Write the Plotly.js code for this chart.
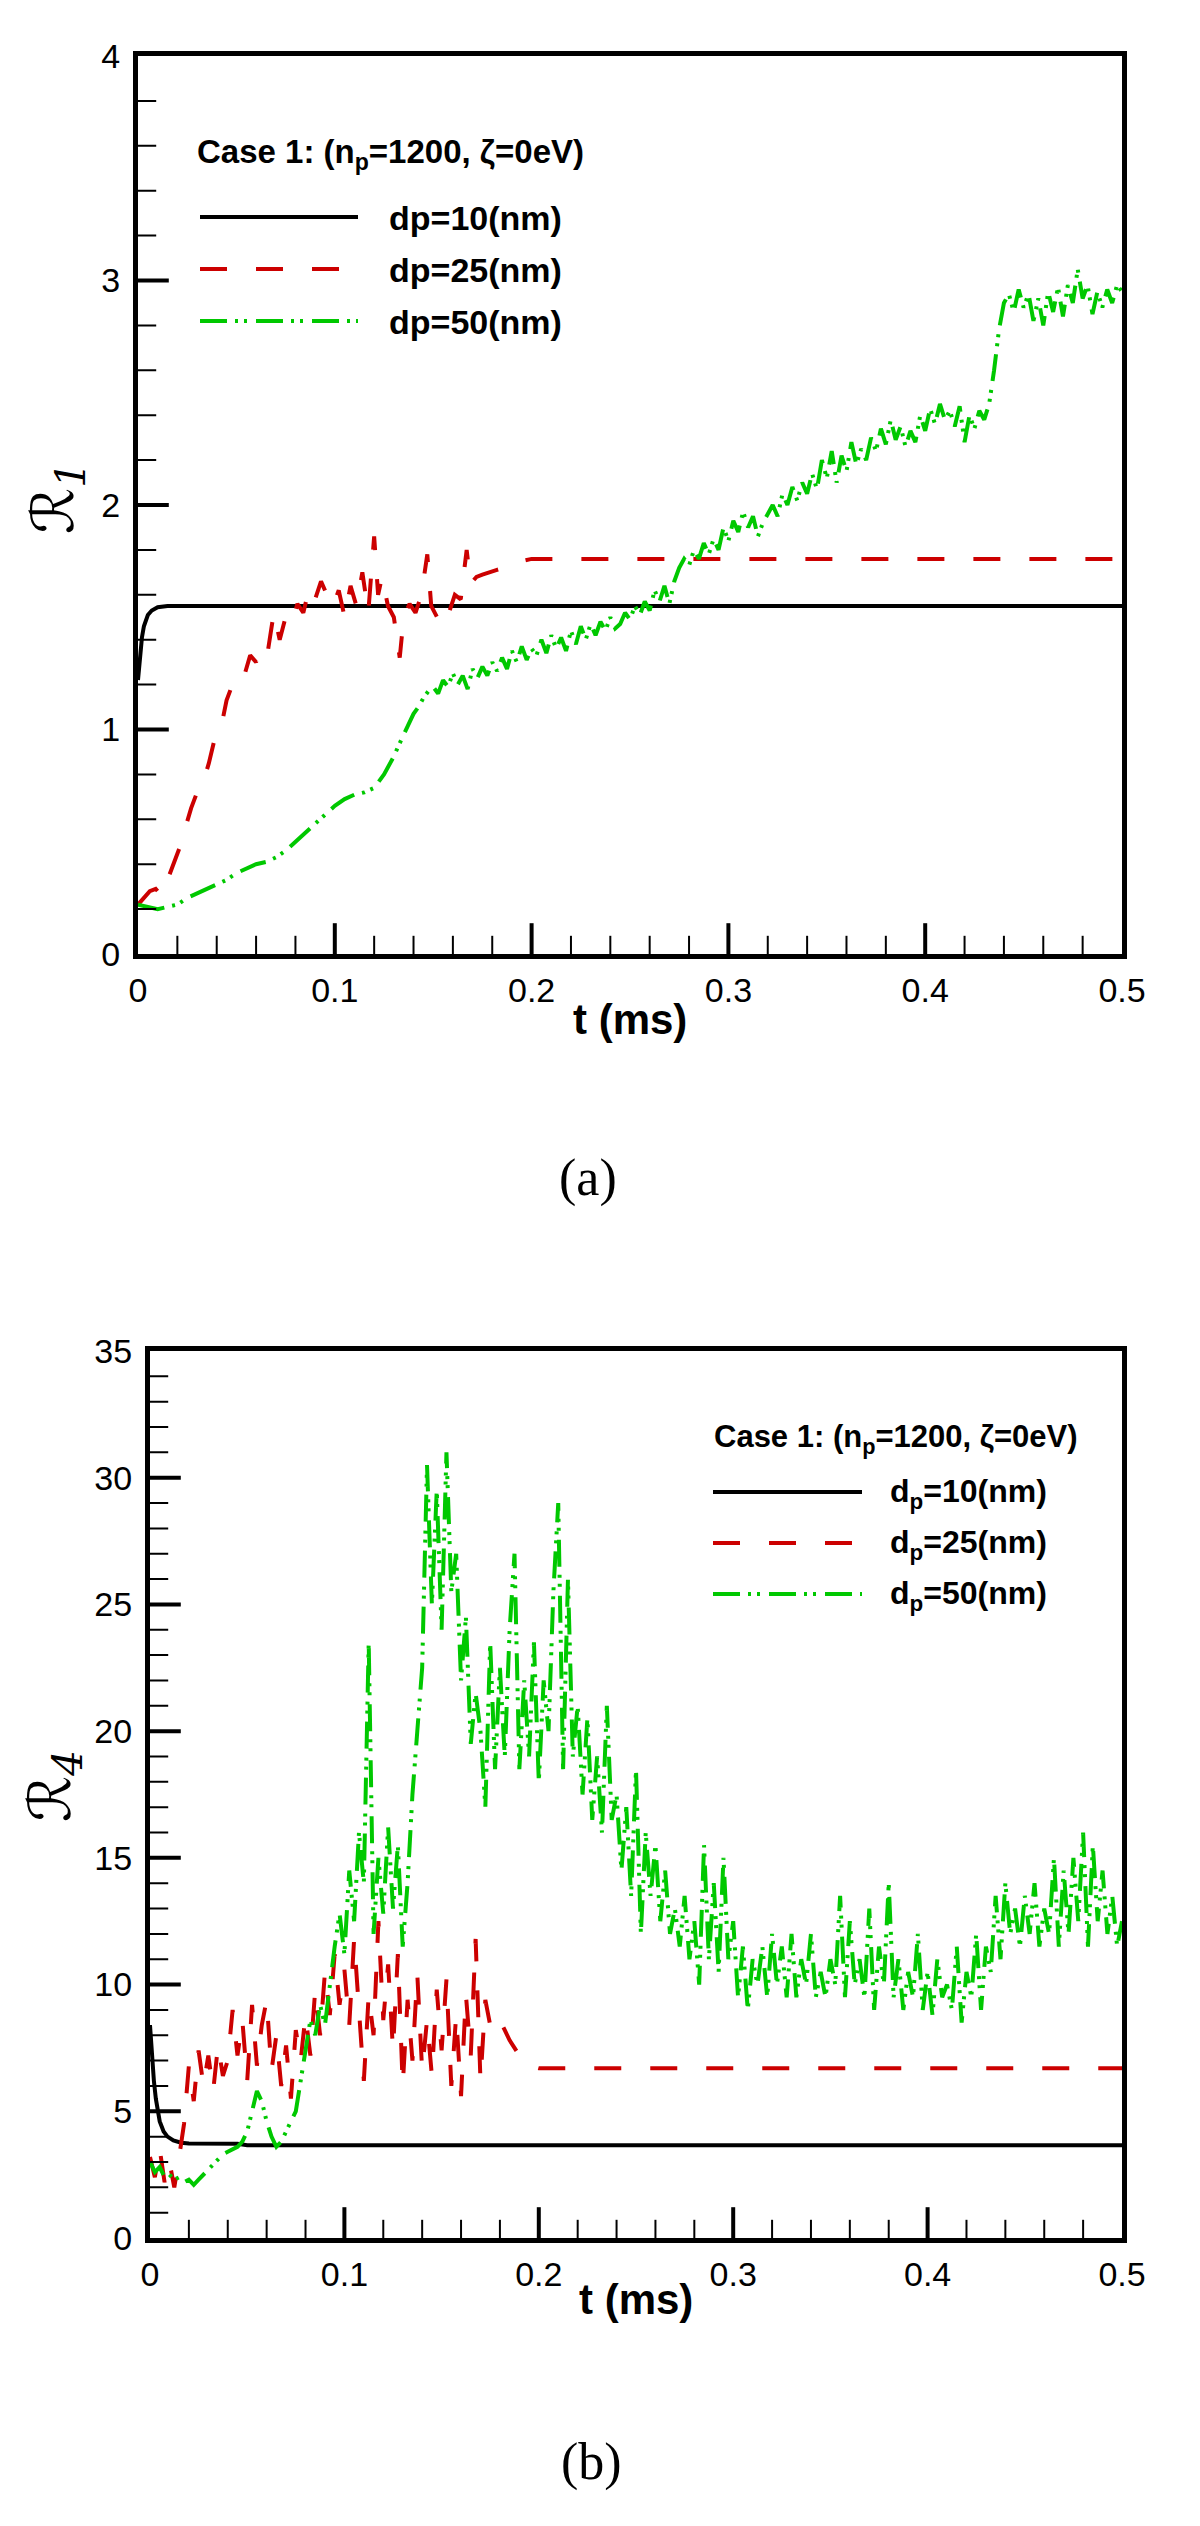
<!DOCTYPE html>
<html>
<head>
<meta charset="utf-8">
<script src="https://cdn.plot.ly/plotly-3.0.1.min.js"></script>
<style>html,body{margin:0;padding:0;background:#fff;}</style>
</head>
<body>
<div id="chart" style="width:1200px;height:2526px;"></div>
<script>
// ---------------- Panel (a): R1 ----------------
const tA_d10 = [0, 0.001, 0.002, 0.003, 0.005, 0.007, 0.010, 0.015, 0.020, 0.1, 0.2, 0.3, 0.4, 0.5];
const rA_d10 = [1.22, 1.33, 1.41, 1.46, 1.51, 1.53, 1.545, 1.55, 1.55, 1.55, 1.55, 1.55, 1.55, 1.55];

const tA_d25 = [0, 0.003, 0.006, 0.009, 0.012, 0.015, 0.018, 0.021, 0.024, 0.027,
  0.030, 0.033, 0.036, 0.039, 0.042, 0.045, 0.048, 0.051, 0.054, 0.057,
  0.060, 0.063, 0.066, 0.069, 0.072, 0.075, 0.078, 0.081, 0.084, 0.087,
  0.090, 0.093, 0.096, 0.099, 0.102, 0.105, 0.108, 0.111, 0.114, 0.117,
  0.120, 0.122, 0.124, 0.127, 0.130, 0.133, 0.135, 0.138, 0.141, 0.144,
  0.147, 0.149, 0.152, 0.155, 0.158, 0.161, 0.164, 0.167, 0.169, 0.172,
  0.175, 0.178, 0.182, 0.186, 0.190, 0.195, 0.200, 0.300, 0.400, 0.500];
const rA_d25 = [0.22, 0.25, 0.28, 0.29, 0.26, 0.33, 0.40, 0.47, 0.56, 0.65,
  0.72, 0.76, 0.85, 0.96, 1.00, 1.13, 1.20, 1.25, 1.24, 1.33,
  1.30, 1.38, 1.35, 1.52, 1.40, 1.50, 1.47, 1.56, 1.52, 1.63,
  1.58, 1.66, 1.60, 1.55, 1.62, 1.50, 1.64, 1.55, 1.70, 1.52,
  1.86, 1.60, 1.68, 1.55, 1.50, 1.32, 1.50, 1.56, 1.52, 1.60,
  1.78, 1.55, 1.50, 1.56, 1.52, 1.60, 1.58, 1.80, 1.65, 1.68,
  1.69, 1.70, 1.71, 1.72, 1.73, 1.75, 1.76, 1.76, 1.76, 1.76];

const tA_d50 = [0, 0.005, 0.01, 0.015, 0.02, 0.025, 0.03, 0.035, 0.04, 0.045,
  0.05, 0.055, 0.06, 0.065, 0.07, 0.075, 0.08, 0.085, 0.09, 0.095,
  0.1, 0.105, 0.11, 0.115, 0.12, 0.125, 0.13,
  0.1325, 0.135, 0.1375, 0.14, 0.1425, 0.145, 0.1475, 0.15,
  0.1525, 0.155, 0.1575, 0.16, 0.1625, 0.165, 0.1675, 0.17,
  0.1725, 0.175, 0.1775, 0.18, 0.1825, 0.185, 0.1875, 0.19,
  0.1925, 0.195, 0.1975, 0.2, 0.2025, 0.205, 0.2075, 0.21,
  0.2125, 0.215, 0.2175, 0.22, 0.2225, 0.225, 0.2275, 0.23,
  0.2325, 0.235, 0.2375, 0.24, 0.2425, 0.245, 0.2475, 0.25,
  0.2525, 0.255, 0.2575, 0.26, 0.2625, 0.265, 0.2675, 0.27,
  0.2725, 0.275, 0.2775, 0.28, 0.2825, 0.285, 0.2875, 0.29,
  0.2925, 0.295, 0.2975, 0.3, 0.3025, 0.305, 0.3075, 0.31,
  0.3125, 0.315, 0.3175, 0.32, 0.3225, 0.325, 0.3275, 0.33,
  0.3325, 0.335, 0.3375, 0.34, 0.3425, 0.345, 0.3475, 0.35,
  0.3525, 0.355, 0.3575, 0.36, 0.3625, 0.365, 0.3675, 0.37,
  0.3725, 0.375, 0.3775, 0.38, 0.3825, 0.385, 0.3875, 0.39,
  0.3925, 0.395, 0.3975, 0.4, 0.4025, 0.405, 0.4075, 0.41,
  0.4125, 0.415, 0.4175, 0.42, 0.4225, 0.425, 0.4275, 0.43,
  0.4325, 0.435, 0.4375, 0.44, 0.4425, 0.445, 0.4475, 0.45,
  0.4525, 0.455, 0.4575, 0.46, 0.4625, 0.465, 0.4675, 0.47,
  0.4725, 0.475, 0.4775, 0.48, 0.4825, 0.485, 0.4875, 0.49,
  0.4925, 0.495, 0.4975, 0.5];
const rA_d50 = [0.22, 0.21, 0.20, 0.21, 0.22, 0.25, 0.27, 0.29, 0.31, 0.33,
  0.36, 0.38, 0.40, 0.41, 0.43, 0.46, 0.50, 0.54, 0.58, 0.62,
  0.66, 0.69, 0.71, 0.72, 0.74, 0.80, 0.88,
  0.93, 0.98, 1.03, 1.07, 1.10, 1.14, 1.17, 1.19,
  1.16, 1.22, 1.19, 1.25, 1.20, 1.24, 1.18, 1.27,
  1.23, 1.28, 1.24, 1.30, 1.26, 1.32, 1.27, 1.35,
  1.30, 1.37, 1.31, 1.36, 1.33, 1.40, 1.34, 1.42,
  1.36, 1.41, 1.35, 1.44, 1.38, 1.46, 1.40, 1.47,
  1.42, 1.48, 1.44, 1.50, 1.45, 1.47, 1.52, 1.49,
  1.55, 1.51, 1.57, 1.53, 1.62, 1.57, 1.64, 1.56,
  1.66, 1.72, 1.76, 1.73, 1.80, 1.76, 1.83, 1.78,
  1.85, 1.80, 1.90, 1.84, 1.93, 1.88, 1.97, 1.90,
  1.95, 1.86, 1.92, 1.96, 2.00, 1.95, 2.05, 2.00,
  2.08, 2.02, 2.10, 2.05, 2.14, 2.07, 2.20, 2.12,
  2.24, 2.10, 2.22, 2.15, 2.28, 2.18, 2.25, 2.20,
  2.30, 2.24, 2.34, 2.27, 2.38, 2.29, 2.35, 2.26,
  2.33, 2.28, 2.40, 2.33, 2.43, 2.36, 2.45, 2.38,
  2.42, 2.35, 2.44, 2.28, 2.40, 2.34, 2.42, 2.38,
  2.45, 2.60, 2.78, 2.90, 2.94, 2.86, 2.96, 2.88,
  2.94, 2.82, 2.92, 2.80, 2.95, 2.86, 2.97, 2.84,
  2.98, 2.90, 3.05, 2.92, 2.98, 2.85, 2.95, 2.88,
  2.96, 2.90, 2.98, 2.95];

// ---------------- Panel (b): R4 ----------------
const tB_d10 = [0, 0.001, 0.002, 0.003, 0.004, 0.005, 0.007, 0.009, 0.012, 0.016, 0.020, 0.045, 0.050, 0.5];
const rB_d10 = [8.4, 7.2, 6.2, 5.5, 5.0, 4.6, 4.2, 4.0, 3.85, 3.76, 3.73, 3.72, 3.66, 3.66];

const tB_d25 = [0, 0.0025, 0.005, 0.0075, 0.01, 0.0125, 0.015, 0.0175,
  0.02, 0.0225, 0.025, 0.0275, 0.03, 0.0325, 0.035, 0.0375,
  0.04, 0.0425, 0.045, 0.0475, 0.05, 0.0525, 0.055, 0.0575,
  0.06, 0.0625, 0.065, 0.0675, 0.07, 0.0725, 0.075, 0.0775,
  0.08, 0.0825, 0.085, 0.0875, 0.09, 0.0925, 0.095, 0.0975,
  0.1, 0.1025, 0.105, 0.1075, 0.11, 0.1125, 0.115, 0.1175,
  0.12, 0.1225, 0.125, 0.1275, 0.13, 0.1325, 0.135, 0.1375,
  0.14, 0.1425, 0.145, 0.1475, 0.15, 0.1525, 0.155, 0.1575,
  0.16, 0.1625, 0.165, 0.1675, 0.17, 0.1725, 0.175, 0.1775,
  0.18, 0.1825, 0.185, 0.1875, 0.19, 0.1925, 0.195, 0.1975,
  0.2, 0.5];
const rB_d25 = [3.2, 2.4, 3.5, 2.2, 3.0, 2.0, 3.2, 4.5,
  6.8, 5.4, 7.4, 6.0, 7.2, 5.8, 7.6, 6.4,
  7.0, 9.0, 7.2, 8.6, 6.2, 9.2, 6.8, 8.4,
  9.4, 6.6, 8.0, 6.0, 7.6, 5.5, 8.2, 7.0,
  8.8, 7.2, 9.8, 8.0, 10.5, 8.8, 11.2, 9.2,
  10.6, 8.4, 11.8, 9.0, 6.2, 9.6, 8.0, 12.5,
  8.6, 10.8, 7.4, 11.2, 6.0, 9.4, 7.0, 10.4,
  6.6, 8.6, 6.4, 9.8, 7.4, 10.2, 6.0, 8.8,
  5.6, 9.6, 7.2, 11.8, 6.2, 9.4, 8.4, 8.8,
  8.6, 8.2, 7.8, 7.5, 7.2, 7.0, 6.8, 6.75,
  6.7, 6.7];

const tB_d50 = [0, 0.0025, 0.005, 0.0075, 0.01, 0.0125, 0.015, 0.0175,
  0.02, 0.0225, 0.025, 0.0275, 0.03, 0.0325, 0.035, 0.0375,
  0.04, 0.0425, 0.045, 0.0475, 0.05, 0.0525, 0.055, 0.0575,
  0.06, 0.0625, 0.065, 0.0675, 0.07, 0.0725, 0.075, 0.0775,
  0.08, 0.0825, 0.085, 0.0875, 0.09, 0.0925, 0.095, 0.0975,
  0.1, 0.1025, 0.105, 0.1075, 0.11, 0.1125, 0.115, 0.1175,
  0.12, 0.1225, 0.125, 0.1275, 0.13, 0.1325, 0.135, 0.1375,
  0.14, 0.1425, 0.145, 0.1475, 0.15, 0.1525, 0.155, 0.1575,
  0.16, 0.1625, 0.165, 0.1675, 0.17, 0.1725, 0.175, 0.1775,
  0.18, 0.1825, 0.185, 0.1875, 0.19, 0.1925, 0.195, 0.1975,
  0.2, 0.2025, 0.205, 0.2075, 0.21, 0.2125, 0.215, 0.2175,
  0.22, 0.2225, 0.225, 0.2275, 0.23, 0.2325, 0.235, 0.2375,
  0.24, 0.2425, 0.245, 0.2475, 0.25, 0.2525, 0.255, 0.2575,
  0.26, 0.2625, 0.265, 0.2675, 0.27, 0.2725, 0.275, 0.2775,
  0.28, 0.2825, 0.285, 0.2875, 0.29, 0.2925, 0.295, 0.2975,
  0.3, 0.3025, 0.305, 0.3075, 0.31, 0.3125, 0.315, 0.3175,
  0.32, 0.3225, 0.325, 0.3275, 0.33, 0.3325, 0.335, 0.3375,
  0.34, 0.3425, 0.345, 0.3475, 0.35, 0.3525, 0.355, 0.3575,
  0.36, 0.3625, 0.365, 0.3675, 0.37, 0.3725, 0.375, 0.3775,
  0.38, 0.3825, 0.385, 0.3875, 0.39, 0.3925, 0.395, 0.3975,
  0.4, 0.4025, 0.405, 0.4075, 0.41, 0.4125, 0.415, 0.4175,
  0.42, 0.4225, 0.425, 0.4275, 0.43, 0.4325, 0.435, 0.4375,
  0.44, 0.4425, 0.445, 0.4475, 0.45, 0.4525, 0.455, 0.4575,
  0.46, 0.4625, 0.465, 0.4675, 0.47, 0.4725, 0.475, 0.4775,
  0.48, 0.4825, 0.485, 0.4875, 0.49, 0.4925, 0.495, 0.4975,
  0.5];
const rB_d50 = [3.0, 2.6, 2.8, 2.4, 2.5, 2.3, 2.4, 2.2,
  2.3, 2.1, 2.3, 2.5, 2.7, 2.9, 3.1, 3.3,
  3.4, 3.5, 3.6, 3.8, 4.2, 5.0, 5.8, 5.4,
  4.6, 4.0, 3.6, 3.8, 4.2, 4.6, 5.0, 6.2,
  7.4, 8.6, 8.0, 9.2, 8.4, 10.0, 11.5, 12.8,
  11.2, 14.5, 12.5, 16.0, 14.0, 23.5, 12.0, 15.0,
  12.8, 16.2, 13.0, 15.5, 11.5, 14.0, 17.5, 20.0,
  22.5, 30.5, 25.0, 29.5, 24.0, 31.0, 25.5, 27.0,
  22.0, 24.5, 19.5, 21.5, 20.0, 17.0, 23.5, 18.5,
  22.5, 19.0, 24.0, 27.0, 18.5, 22.0, 19.0, 23.5,
  18.0, 22.0, 20.0, 25.5, 29.0, 18.5, 26.0, 19.0,
  21.0, 17.5, 20.5, 16.5, 19.0, 16.0, 21.0, 16.5,
  17.5, 14.5, 17.0, 13.5, 18.5, 12.0, 16.0, 13.5,
  15.5, 12.5, 14.5, 12.0, 13.0, 11.5, 13.5, 11.0,
  12.5, 10.0, 15.5, 11.0, 14.0, 10.5, 15.0, 11.0,
  12.5, 9.5, 11.5, 9.0, 11.0, 10.0, 11.5, 9.5,
  12.0, 10.0, 11.5, 9.5, 12.0, 9.5, 11.0, 10.0,
  12.0, 9.5, 10.5, 9.5, 11.0, 10.0, 13.5, 9.5,
  12.5, 10.0, 11.0, 9.5, 13.0, 9.0, 11.5, 10.0,
  14.0, 9.5, 11.0, 9.0, 10.5, 9.5, 12.0, 9.0,
  10.5, 8.8, 11.0, 9.5, 10.0, 9.0, 11.5, 8.5,
  10.5, 9.5, 12.0, 9.0, 11.5, 10.5, 13.5, 11.0,
  14.0, 12.0, 13.0, 11.5, 13.5, 12.0, 14.0, 11.5,
  13.0, 12.0, 15.0, 11.5, 14.5, 12.0, 15.0, 12.5,
  16.0, 11.5, 15.5, 12.5, 14.5, 12.0, 13.5, 11.5,
  12.5];

const seriesNames = ['dp=10(nm)', 'dp=25(nm)', 'dp=50(nm)'];
const xTickVals = [0, 0.1, 0.2, 0.3, 0.4, 0.5];
const yTickValsA = [0, 1, 2, 3, 4];
const yTickValsB = [0, 5, 10, 15, 20, 25, 30, 35];
const xMinorStep = 0.02, yMinorStepA = 0.2, yMinorStepB = 1;

// ---------------- styles ----------------
const W = 1200, H = 2526;
const BLACK = '#000000', RED = '#cc0000', GREEN = '#00c800';
const DASH_RED = '27px,29px';
const DASH_GREEN = '27px,8px,3px,6px,3px,9px';
const px = v => v / W;
const py = v => 1 - v / H;

function mk(x, y, color, dash, xa, ya, name) {
  return {x: x, y: y, type: 'scatter', mode: 'lines', name: name, showlegend: false,
    xaxis: xa, yaxis: ya, line: {color: color, width: 4, dash: dash}, hoverinfo: 'skip'};
}
const traces = [
  mk(tA_d10, rA_d10, BLACK, 'solid', 'x', 'y', seriesNames[0]),
  mk(tA_d25, rA_d25, RED, DASH_RED, 'x', 'y', seriesNames[1]),
  mk(tA_d50, rA_d50, GREEN, DASH_GREEN, 'x', 'y', seriesNames[2]),
  mk(tB_d10, rB_d10, BLACK, 'solid', 'x2', 'y2', seriesNames[0]),
  mk(tB_d25, rB_d25, RED, DASH_RED, 'x2', 'y2', seriesNames[1]),
  mk(tB_d50, rB_d50, GREEN, DASH_GREEN, 'x2', 'y2', seriesNames[2])
];

// Inside tick marks: line-shaped markers centred on the axis line; the half
// outside the plot area is clipped, leaving an inward tick.
function tickPositions(max, step, majors) {
  const major = [], minor = [];
  for (let k = 1; k * step < max - 1e-9; k++) {
    const v = +(k * step).toFixed(6);
    (majors.some(m => Math.abs(m - v) < 1e-9) ? major : minor).push(v);
  }
  return {major, minor};
}
function tickTrace(xa, ya, vals, horizontalAxis, size, width) {
  return {
    type: 'scatter', mode: 'markers', xaxis: xa, yaxis: ya, showlegend: false, hoverinfo: 'skip',
    x: horizontalAxis ? vals : vals.map(() => 0),
    y: horizontalAxis ? vals.map(() => 0) : vals,
    cliponaxis: true,
    marker: {symbol: horizontalAxis ? 'line-ns-open' : 'line-ew-open', size: size, color: '#000',
             line: {width: width, color: '#000'}}
  };
}
function addTicks(xa, ya, yMax, yStep, yMajors) {
  const xt = tickPositions(0.5, xMinorStep, xTickVals);
  const yt = tickPositions(yMax, yStep, yMajors);
  traces.push(tickTrace(xa, ya, xt.major, true, 44, 4));
  traces.push(tickTrace(xa, ya, xt.minor, true, 26, 2));
  traces.push(tickTrace(xa, ya, yt.major, false, 44, 4));
  traces.push(tickTrace(xa, ya, yt.minor, false, 26, 2));
}
addTicks('x', 'y', 4, yMinorStepA, yTickValsA);
addTicks('x2', 'y2', 35, yMinorStepB, yTickValsB);

const TICKFONT = {family: 'Liberation Sans, Arial, sans-serif', size: 34, color: '#000'};
function mainAxis(extra) {
  return Object.assign({
    showline: true, linecolor: '#000', linewidth: 5, mirror: true,
    ticks: '', showgrid: false, zeroline: false, tickfont: TICKFONT, tickmode: 'array'
  }, extra);
}

const xDomA = [px(138), px(1122)], yDomA = [py(954), py(56)];
const xDomB = [px(150), px(1122)], yDomB = [py(2238), py(1351)];

const layout = {
  width: W, height: H,
  margin: {l: 0, r: 0, t: 0, b: 0},
  paper_bgcolor: '#ffffff', plot_bgcolor: '#ffffff',
  showlegend: false,
  font: {family: 'Liberation Sans, Arial, sans-serif', color: '#000'},
  xaxis: mainAxis({domain: xDomA, anchor: 'y', range: [0, 0.5], tickvals: xTickVals, ticktext: xTickVals.map(String), ticklabelstandoff: 2}),
  yaxis: mainAxis({domain: yDomA, anchor: 'x', range: [0, 4], tickvals: yTickValsA, ticktext: yTickValsA.map(String), ticklabelstandoff: 6}),
  xaxis2: mainAxis({domain: xDomB, anchor: 'y2', range: [0, 0.5], tickvals: xTickVals, ticktext: xTickVals.map(String), ticklabelstandoff: 2}),
  yaxis2: mainAxis({domain: yDomB, anchor: 'x2', range: [0, 35], tickvals: yTickValsB, ticktext: yTickValsB.map(String), ticklabelstandoff: 6}),
  annotations: [],
  shapes: []
};

function ann(text, x, y, o) {
  layout.annotations.push(Object.assign({
    text: text, x: px(x), y: py(y), xref: 'paper', yref: 'paper', showarrow: false,
    xanchor: 'center', yanchor: 'middle',
    font: {family: 'Liberation Sans, Arial, sans-serif', size: 32, color: '#000'}
  }, o || {}));
}
function legLine(x0, x1, y, color, dash) {
  layout.shapes.push({type: 'line', xref: 'paper', yref: 'paper',
    x0: px(x0), x1: px(x1), y0: py(y), y1: py(y),
    line: {color: color, width: 4, dash: dash}});
}

// axis titles
const BOLD = 'Liberation Sans, Arial, sans-serif';
ann('<b>t (ms)</b>', 630, 1019, {font: {family: BOLD, size: 42, color: '#000'}});
ann('<b>t (ms)</b>', 636, 2299, {font: {family: BOLD, size: 42, color: '#000'}});
ann('<i>ℛ<sub>1</sub></i>', 57, 498, {textangle: -90, font: {family: 'DejaVu Serif, DejaVu Sans, serif', size: 58, color: '#000'}});
ann('<i>ℛ<sub>4</sub></i>', 54, 1786, {textangle: -90, font: {family: 'DejaVu Serif, DejaVu Sans, serif', size: 58, color: '#000'}});

// panel labels
ann('(a)', 588, 1178, {font: {family: 'Liberation Serif, Times New Roman, serif', size: 52, color: '#000'}});
ann('(b)', 591, 2462, {font: {family: 'Liberation Serif, Times New Roman, serif', size: 52, color: '#000'}});

// legend (a)
ann('<b>Case 1: (n<sub>p</sub>=1200, ζ=0eV)</b>', 195, 154, {xanchor: 'left', font: {family: BOLD, size: 33, color: '#000'}});
const legA_y = [217, 269, 321];
const legColors = [BLACK, RED, GREEN];
const legDash = ['solid', DASH_RED, DASH_GREEN];
for (let i = 0; i < 3; i++) {
  legLine(200, 358, legA_y[i], legColors[i], legDash[i]);
  ann('<b>' + seriesNames[i] + '</b>', 387, legA_y[i] + 1, {xanchor: 'left', font: {family: BOLD, size: 34, color: '#000'}});
}
// legend (b)
ann('<b>Case 1: (n<sub>p</sub>=1200, ζ=0eV)</b>', 712, 1439, {xanchor: 'left', font: {family: BOLD, size: 31, color: '#000'}});
const legB_y = [1492, 1543, 1594];
for (let i = 0; i < 3; i++) {
  legLine(713, 862, legB_y[i], legColors[i], legDash[i]);
  ann('<b>' + seriesNames[i].replace('dp', 'd<sub>p</sub>') + '</b>', 888, legB_y[i] + 1, {xanchor: 'left', font: {family: BOLD, size: 32, color: '#000'}});
}

Plotly.newPlot('chart', traces, layout, {displayModeBar: false, responsive: false});
</script>
</body>
</html>
